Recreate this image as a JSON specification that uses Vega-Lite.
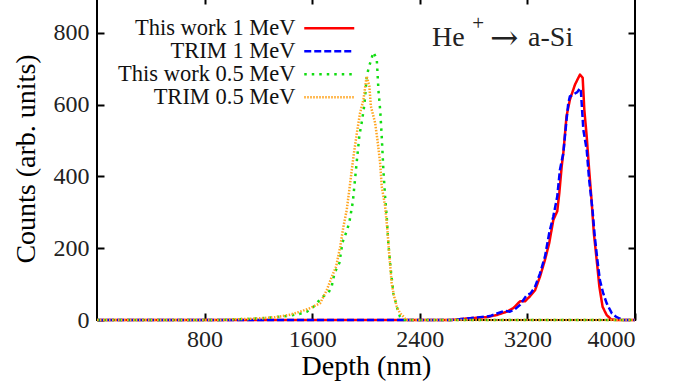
{
  "$schema": "https://vega.github.io/schema/vega-lite/v6.json",
  "autosize": "none",
  "width": 538,
  "height": 323,
  "padding": {"left": 97, "top": -3, "right": 55, "bottom": 68},
  "background": "white",
  "config": {
    "font": "Liberation Serif",
    "view": {"stroke": "black", "strokeWidth": 2},
    "axis": {
      "domain": false,
      "grid": false,
      "tickColor": "black",
      "tickWidth": 2,
      "tickSize": -7,
      "labelColor": "#222222",
      "titleColor": "black",
      "labelFont": "Liberation Serif",
      "titleFont": "Liberation Serif",
      "labelFontSize": 24,
      "titleFontSize": 28,
      "titleFontWeight": "normal",
      "format": "d"
    },
    "legend": {
      "labelFont": "Liberation Serif"
    }
  },
  "datasets": {
    "curves": [
      {"d": 0, "c": 0, "s": "This work 1 MeV"},
      {"d": 2635, "c": 0, "s": "This work 1 MeV"},
      {"d": 2773, "c": 5, "s": "This work 1 MeV"},
      {"d": 2897, "c": 8, "s": "This work 1 MeV"},
      {"d": 2972, "c": 14, "s": "This work 1 MeV"},
      {"d": 3046, "c": 23, "s": "This work 1 MeV"},
      {"d": 3095, "c": 33, "s": "This work 1 MeV"},
      {"d": 3145, "c": 52, "s": "This work 1 MeV"},
      {"d": 3182, "c": 52, "s": "This work 1 MeV"},
      {"d": 3219, "c": 66, "s": "This work 1 MeV"},
      {"d": 3257, "c": 83, "s": "This work 1 MeV"},
      {"d": 3294, "c": 121, "s": "This work 1 MeV"},
      {"d": 3331, "c": 168, "s": "This work 1 MeV"},
      {"d": 3362, "c": 214, "s": "This work 1 MeV"},
      {"d": 3393, "c": 279, "s": "This work 1 MeV"},
      {"d": 3422, "c": 303, "s": "This work 1 MeV"},
      {"d": 3437, "c": 353, "s": "This work 1 MeV"},
      {"d": 3455, "c": 428, "s": "This work 1 MeV"},
      {"d": 3467, "c": 465, "s": "This work 1 MeV"},
      {"d": 3491, "c": 568, "s": "This work 1 MeV"},
      {"d": 3516, "c": 614, "s": "This work 1 MeV"},
      {"d": 3554, "c": 656, "s": "This work 1 MeV"},
      {"d": 3591, "c": 684, "s": "This work 1 MeV"},
      {"d": 3611, "c": 675, "s": "This work 1 MeV"},
      {"d": 3623, "c": 587, "s": "This work 1 MeV"},
      {"d": 3641, "c": 511, "s": "This work 1 MeV"},
      {"d": 3659, "c": 419, "s": "This work 1 MeV"},
      {"d": 3677, "c": 334, "s": "This work 1 MeV"},
      {"d": 3694, "c": 242, "s": "This work 1 MeV"},
      {"d": 3715, "c": 168, "s": "This work 1 MeV"},
      {"d": 3735, "c": 93, "s": "This work 1 MeV"},
      {"d": 3759, "c": 37, "s": "This work 1 MeV"},
      {"d": 3789, "c": 14, "s": "This work 1 MeV"},
      {"d": 3822, "c": 2, "s": "This work 1 MeV"},
      {"d": 3862, "c": 0, "s": "This work 1 MeV"},
      {"d": 4000, "c": 0, "s": "This work 1 MeV"},

      {"d": 0, "c": 0, "s": "TRIM 1 MeV"},
      {"d": 2635, "c": 0, "s": "TRIM 1 MeV"},
      {"d": 2773, "c": 5, "s": "TRIM 1 MeV"},
      {"d": 2848, "c": 8, "s": "TRIM 1 MeV"},
      {"d": 2922, "c": 11, "s": "TRIM 1 MeV"},
      {"d": 2996, "c": 21, "s": "TRIM 1 MeV"},
      {"d": 3033, "c": 26, "s": "TRIM 1 MeV"},
      {"d": 3070, "c": 23, "s": "TRIM 1 MeV"},
      {"d": 3108, "c": 30, "s": "TRIM 1 MeV"},
      {"d": 3145, "c": 42, "s": "TRIM 1 MeV"},
      {"d": 3170, "c": 56, "s": "TRIM 1 MeV"},
      {"d": 3195, "c": 69, "s": "TRIM 1 MeV"},
      {"d": 3224, "c": 74, "s": "TRIM 1 MeV"},
      {"d": 3257, "c": 93, "s": "TRIM 1 MeV"},
      {"d": 3294, "c": 130, "s": "TRIM 1 MeV"},
      {"d": 3331, "c": 177, "s": "TRIM 1 MeV"},
      {"d": 3362, "c": 242, "s": "TRIM 1 MeV"},
      {"d": 3393, "c": 289, "s": "TRIM 1 MeV"},
      {"d": 3422, "c": 344, "s": "TRIM 1 MeV"},
      {"d": 3442, "c": 419, "s": "TRIM 1 MeV"},
      {"d": 3467, "c": 465, "s": "TRIM 1 MeV"},
      {"d": 3491, "c": 558, "s": "TRIM 1 MeV"},
      {"d": 3504, "c": 604, "s": "TRIM 1 MeV"},
      {"d": 3516, "c": 623, "s": "TRIM 1 MeV"},
      {"d": 3540, "c": 628, "s": "TRIM 1 MeV"},
      {"d": 3571, "c": 635, "s": "TRIM 1 MeV"},
      {"d": 3591, "c": 646, "s": "TRIM 1 MeV"},
      {"d": 3598, "c": 637, "s": "TRIM 1 MeV"},
      {"d": 3616, "c": 530, "s": "TRIM 1 MeV"},
      {"d": 3641, "c": 474, "s": "TRIM 1 MeV"},
      {"d": 3659, "c": 391, "s": "TRIM 1 MeV"},
      {"d": 3684, "c": 307, "s": "TRIM 1 MeV"},
      {"d": 3701, "c": 232, "s": "TRIM 1 MeV"},
      {"d": 3720, "c": 168, "s": "TRIM 1 MeV"},
      {"d": 3739, "c": 111, "s": "TRIM 1 MeV"},
      {"d": 3764, "c": 74, "s": "TRIM 1 MeV"},
      {"d": 3789, "c": 47, "s": "TRIM 1 MeV"},
      {"d": 3827, "c": 19, "s": "TRIM 1 MeV"},
      {"d": 3863, "c": 8, "s": "TRIM 1 MeV"},
      {"d": 3913, "c": 0, "s": "TRIM 1 MeV"},
      {"d": 4000, "c": 0, "s": "TRIM 1 MeV"},

      {"d": 0, "c": 0, "s": "This work 0.5 MeV"},
      {"d": 920, "c": 0, "s": "This work 0.5 MeV"},
      {"d": 1024, "c": 2, "s": "This work 0.5 MeV"},
      {"d": 1124, "c": 3, "s": "This work 0.5 MeV"},
      {"d": 1225, "c": 5, "s": "This work 0.5 MeV"},
      {"d": 1326, "c": 8, "s": "This work 0.5 MeV"},
      {"d": 1426, "c": 12, "s": "This work 0.5 MeV"},
      {"d": 1507, "c": 17, "s": "This work 0.5 MeV"},
      {"d": 1560, "c": 23, "s": "This work 0.5 MeV"},
      {"d": 1610, "c": 37, "s": "This work 0.5 MeV"},
      {"d": 1646, "c": 52, "s": "This work 0.5 MeV"},
      {"d": 1683, "c": 66, "s": "This work 0.5 MeV"},
      {"d": 1720, "c": 75, "s": "This work 0.5 MeV"},
      {"d": 1745, "c": 94, "s": "This work 0.5 MeV"},
      {"d": 1766, "c": 131, "s": "This work 0.5 MeV"},
      {"d": 1802, "c": 159, "s": "This work 0.5 MeV"},
      {"d": 1825, "c": 216, "s": "This work 0.5 MeV"},
      {"d": 1857, "c": 248, "s": "This work 0.5 MeV"},
      {"d": 1876, "c": 272, "s": "This work 0.5 MeV"},
      {"d": 1902, "c": 329, "s": "This work 0.5 MeV"},
      {"d": 1919, "c": 394, "s": "This work 0.5 MeV"},
      {"d": 1936, "c": 459, "s": "This work 0.5 MeV"},
      {"d": 1951, "c": 515, "s": "This work 0.5 MeV"},
      {"d": 1970, "c": 554, "s": "This work 0.5 MeV"},
      {"d": 1988, "c": 600, "s": "This work 0.5 MeV"},
      {"d": 2005, "c": 675, "s": "This work 0.5 MeV"},
      {"d": 2018, "c": 700, "s": "This work 0.5 MeV"},
      {"d": 2055, "c": 746, "s": "This work 0.5 MeV"},
      {"d": 2080, "c": 727, "s": "This work 0.5 MeV"},
      {"d": 2093, "c": 638, "s": "This work 0.5 MeV"},
      {"d": 2106, "c": 582, "s": "This work 0.5 MeV"},
      {"d": 2117, "c": 511, "s": "This work 0.5 MeV"},
      {"d": 2129, "c": 419, "s": "This work 0.5 MeV"},
      {"d": 2142, "c": 344, "s": "This work 0.5 MeV"},
      {"d": 2154, "c": 288, "s": "This work 0.5 MeV"},
      {"d": 2166, "c": 214, "s": "This work 0.5 MeV"},
      {"d": 2184, "c": 140, "s": "This work 0.5 MeV"},
      {"d": 2204, "c": 74, "s": "This work 0.5 MeV"},
      {"d": 2229, "c": 37, "s": "This work 0.5 MeV"},
      {"d": 2253, "c": 9, "s": "This work 0.5 MeV"},
      {"d": 2272, "c": 0, "s": "This work 0.5 MeV"},
      {"d": 4000, "c": 0, "s": "This work 0.5 MeV"},

      {"d": 0, "c": 0, "s": "TRIM 0.5 MeV"},
      {"d": 920, "c": 0, "s": "TRIM 0.5 MeV"},
      {"d": 1024, "c": 2, "s": "TRIM 0.5 MeV"},
      {"d": 1124, "c": 3, "s": "TRIM 0.5 MeV"},
      {"d": 1225, "c": 5, "s": "TRIM 0.5 MeV"},
      {"d": 1326, "c": 8, "s": "TRIM 0.5 MeV"},
      {"d": 1426, "c": 14, "s": "TRIM 0.5 MeV"},
      {"d": 1510, "c": 23, "s": "TRIM 0.5 MeV"},
      {"d": 1585, "c": 33, "s": "TRIM 0.5 MeV"},
      {"d": 1659, "c": 47, "s": "TRIM 0.5 MeV"},
      {"d": 1708, "c": 83, "s": "TRIM 0.5 MeV"},
      {"d": 1746, "c": 121, "s": "TRIM 0.5 MeV"},
      {"d": 1778, "c": 149, "s": "TRIM 0.5 MeV"},
      {"d": 1808, "c": 204, "s": "TRIM 0.5 MeV"},
      {"d": 1832, "c": 260, "s": "TRIM 0.5 MeV"},
      {"d": 1857, "c": 307, "s": "TRIM 0.5 MeV"},
      {"d": 1882, "c": 381, "s": "TRIM 0.5 MeV"},
      {"d": 1907, "c": 456, "s": "TRIM 0.5 MeV"},
      {"d": 1932, "c": 521, "s": "TRIM 0.5 MeV"},
      {"d": 1956, "c": 577, "s": "TRIM 0.5 MeV"},
      {"d": 1981, "c": 614, "s": "TRIM 0.5 MeV"},
      {"d": 2005, "c": 679, "s": "TRIM 0.5 MeV"},
      {"d": 2025, "c": 651, "s": "TRIM 0.5 MeV"},
      {"d": 2036, "c": 596, "s": "TRIM 0.5 MeV"},
      {"d": 2068, "c": 549, "s": "TRIM 0.5 MeV"},
      {"d": 2085, "c": 502, "s": "TRIM 0.5 MeV"},
      {"d": 2105, "c": 438, "s": "TRIM 0.5 MeV"},
      {"d": 2117, "c": 372, "s": "TRIM 0.5 MeV"},
      {"d": 2142, "c": 317, "s": "TRIM 0.5 MeV"},
      {"d": 2159, "c": 251, "s": "TRIM 0.5 MeV"},
      {"d": 2174, "c": 177, "s": "TRIM 0.5 MeV"},
      {"d": 2191, "c": 102, "s": "TRIM 0.5 MeV"},
      {"d": 2209, "c": 66, "s": "TRIM 0.5 MeV"},
      {"d": 2229, "c": 37, "s": "TRIM 0.5 MeV"},
      {"d": 2253, "c": 19, "s": "TRIM 0.5 MeV"},
      {"d": 2283, "c": 8, "s": "TRIM 0.5 MeV"},
      {"d": 2297, "c": 0, "s": "TRIM 0.5 MeV"},
      {"d": 4000, "c": 0, "s": "TRIM 0.5 MeV"}
    ]
  },
  "resolve": {"axis": {"x": "independent", "y": "independent"}},
  "layer": [
    {
      "data": {"name": "curves"},
      "mark": {"type": "line", "strokeCap": "butt", "strokeJoin": "round"},
      "encoding": {
        "x": {
          "field": "d", "type": "quantitative",
          "scale": {"domain": [0, 4000], "nice": false, "zero": false},
          "axis": {"orient": "bottom", "values": [800, 1600, 2400, 3200, 4000], "title": "Depth (nm)", "labelPadding": 14, "titlePadding": 1}
        },
        "y": {
          "field": "c", "type": "quantitative",
          "scale": {"domain": [0, 900], "nice": false},
          "axis": {"orient": "left", "values": [0, 200, 400, 600, 800], "title": "Counts (arb. units)", "labelPadding": 15, "titlePadding": 13}
        },
        "color": {
          "field": "s", "type": "nominal",
          "scale": {
            "domain": ["This work 1 MeV", "TRIM 1 MeV", "This work 0.5 MeV", "TRIM 0.5 MeV"],
            "range": ["#ff0000", "#0000ff", "#11dd11", "#ffa520"]
          },
          "legend": {
            "title": null, "orient": "none", "legendX": 221, "legendY": 20,
            "symbolType": "M-5,0H5", "symbolSize": 100, "symbolStrokeWidth": 2.5, "symbolFillColor": "transparent",
            "labelAlign": "right", "labelOffset": -45, "labelFontSize": 22.5, "labelLimit": 0,
            "labelColor": "#111111", "rowPadding": -3
          }
        },
        "strokeDash": {
          "field": "s", "type": "nominal",
          "scale": {
            "domain": ["This work 1 MeV", "TRIM 1 MeV", "This work 0.5 MeV", "TRIM 0.5 MeV"],
            "range": [[1, 0], [7, 3], [2.5, 5], [1.5, 1.5]]
          },
          "legend": {
            "title": null, "orient": "none", "legendX": 221, "legendY": 20,
            "symbolType": "M-5,0H5", "symbolSize": 100, "symbolStrokeWidth": 2.5, "symbolFillColor": "transparent",
            "labelAlign": "right", "labelOffset": -45, "labelFontSize": 22.5, "labelLimit": 0,
            "labelColor": "#111111", "rowPadding": -3
          }
        },
        "strokeWidth": {"value": 2.5}
      }
    },
    {
      "data": {"values": [{}]},
      "mark": {"type": "text", "text": "He", "align": "left", "baseline": "alphabetic", "fontSize": 28, "color": "#222222"},
      "encoding": {
        "x": {"datum": 2491, "type": "quantitative", "scale": {"domain": [0, 4000], "nice": false, "zero": false},
          "axis": {"orient": "top", "values": [800, 1600, 2400, 3200], "labels": false, "title": null}},
        "y": {"datum": 763, "type": "quantitative", "scale": {"domain": [0, 900], "nice": false},
          "axis": {"orient": "right", "values": [200, 400, 600, 800], "labels": false, "title": null}}
      }
    },
    {
      "data": {"values": [{}]},
      "mark": {"type": "text", "text": "+", "align": "left", "baseline": "middle", "fontSize": 21, "color": "#222222"},
      "encoding": {
        "x": {"datum": 2790, "type": "quantitative", "axis": null},
        "y": {"datum": 826, "type": "quantitative", "axis": null}
      }
    },
    {
      "data": {"values": [{}]},
      "mark": {"type": "text", "text": "→", "align": "left", "baseline": "middle", "font": "DejaVu Serif", "fontSize": 34, "color": "#222222"},
      "encoding": {
        "x": {"datum": 2922, "type": "quantitative", "axis": null},
        "y": {"datum": 784, "type": "quantitative", "axis": null}
      }
    },
    {
      "data": {"values": [{}]},
      "mark": {"type": "text", "text": "a-Si", "align": "left", "baseline": "alphabetic", "fontSize": 28, "color": "#222222"},
      "encoding": {
        "x": {"datum": 3205, "type": "quantitative", "axis": null},
        "y": {"datum": 763, "type": "quantitative", "axis": null}
      }
    }
  ]
}
